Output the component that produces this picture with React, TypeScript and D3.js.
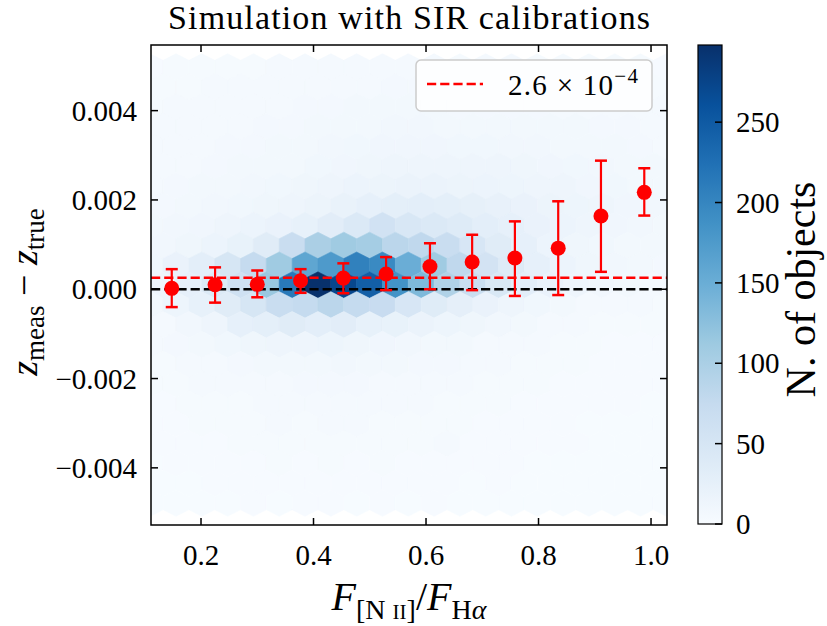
import React from "react";
import * as d3 from "d3";

// figure geometry
const W = 827;
const H = 626;
const PLOT = { left: 151, right: 667, top: 45, bottom: 525 };
const CBAR = { left: 698, right: 722, top: 45, bottom: 524 };
const FONT = "'Liberation Serif', 'DejaVu Serif', serif";

// axes
const xDomain = [0.1111, 1.0284];
const yDomain = [-0.00528, 0.00547];
const xTicks = [0.2, 0.4, 0.6, 0.8, 1.0];
const yTicks = [-0.004, -0.002, 0, 0.002, 0.004];
const cbTicks = [0, 50, 100, 150, 200, 250];
const VMAX = 298;

// matplotlib "Blues"
const BLUES = ["#f7fbff", "#deebf7", "#c6dbef", "#9ecae1", "#6baed6", "#4292c6", "#2171b5", "#08519c", "#08306b"];

// hexbin lattice (data units)
const HEX_X0 = 0.1556; // centre of first column on even rows
const HEX_DX = 0.04587; // column spacing
const HEX_Y0 = -0.00479; // centre of bottom row
const HEX_DY = 0.000444; // row pitch

// counts per hexagon, top row first; 21 cells per row
const hexCounts = [
  [2, 3, 3, 3, 3, 4, 4, 4, 4, 4, 4, 4, 3, 4, 4, 3, 3, 3, 3, 3, 2],
  [3, 3, 4, 4, 4, 5, 5, 5, 5, 6, 6, 5, 5, 5, 5, 5, 4, 4, 4, 3, 3],
  [3, 4, 4, 5, 5, 5, 6, 6, 7, 7, 7, 7, 6, 6, 6, 6, 5, 5, 5, 4, 4],
  [4, 4, 5, 5, 6, 6, 7, 8, 8, 9, 9, 8, 8, 8, 7, 7, 7, 6, 6, 5, 4],
  [4, 5, 5, 6, 6, 7, 8, 9, 10, 11, 11, 11, 10, 10, 9, 9, 8, 8, 7, 6, 5],
  [5, 5, 6, 7, 7, 8, 10, 11, 12, 13, 14, 14, 13, 13, 12, 11, 10, 9, 8, 7, 6],
  [5, 6, 7, 8, 9, 10, 12, 14, 16, 17, 18, 18, 17, 16, 15, 14, 13, 11, 10, 8, 7],
  [6, 7, 9, 10, 12, 14, 17, 21, 25, 28, 30, 28, 26, 23, 20, 17, 15, 13, 11, 9, 8],
  [7, 9, 11, 13, 16, 20, 24, 32, 42, 58, 46, 42, 38, 30, 25, 20, 16, 13, 11, 9, 8],
  [9, 12, 16, 22, 35, 70, 100, 110, 105, 85, 80, 70, 48, 35, 25, 16, 12, 10, 8, 7, 6],
  [10, 20, 30, 50, 75, 110, 160, 175, 205, 195, 150, 110, 80, 55, 38, 25, 16, 12, 9, 7, 6],
  [14, 25, 40, 60, 115, 215, 297, 272, 245, 185, 135, 95, 68, 45, 30, 20, 13, 9, 7, 5, 4],
  [8, 15, 24, 35, 50, 70, 75, 85, 75, 72, 48, 36, 27, 20, 14, 10, 7, 5, 4, 4, 3],
  [5, 9, 14, 25, 28, 35, 30, 32, 24, 22, 18, 15, 12, 9, 7, 5, 4, 3, 3, 3, 2],
  [4, 6, 8, 10, 12, 13, 13, 15, 12, 11, 9, 8, 7, 5, 4, 4, 3, 3, 2, 2, 2],
  [3, 4, 5, 6, 8, 8, 8, 9, 8, 7, 6, 6, 5, 4, 3, 3, 3, 2, 2, 2, 2],
  [3, 3, 4, 4, 5, 5, 6, 6, 6, 5, 5, 4, 4, 3, 3, 3, 2, 2, 2, 2, 2],
  [2, 3, 3, 3, 4, 4, 4, 5, 4, 4, 4, 3, 3, 3, 2, 2, 2, 2, 2, 1, 1],
  [2, 2, 3, 3, 3, 4, 3, 4, 4, 3, 3, 3, 3, 2, 2, 2, 2, 1, 1, 1, 1],
  [2, 2, 2, 3, 3, 3, 3, 3, 3, 3, 3, 4, 2, 2, 2, 2, 2, 1, 1, 1, 1],
  [1, 2, 2, 2, 2, 3, 2, 3, 2, 3, 2, 2, 2, 2, 2, 1, 1, 1, 1, 1, 1],
  [1, 1, 2, 2, 2, 2, 2, 2, 2, 2, 2, 2, 1, 2, 1, 1, 1, 1, 1, 1, 1],
  [1, 1, 1, 1, 2, 1, 2, 2, 1, 2, 1, 2, 1, 1, 1, 1, 1, 1, 1, 1, 1],
];

// binned medians with error bars
const binX = [0.148, 0.225, 0.3, 0.377, 0.453, 0.529, 0.607, 0.682, 0.758, 0.835, 0.911, 0.988];
const binMedian = [0.00002, 0.0001, 0.00011, 0.00019, 0.00025, 0.00034, 0.00051, 0.00061, 0.0007, 0.00092, 0.00164, 0.00217];
const binUpper = [0.00045, 0.00049, 0.00042, 0.00045, 0.00058, 0.00072, 0.00103, 0.00122, 0.00152, 0.00197, 0.00288, 0.00271];
const binLower = [-0.0004, -0.0003, -0.00018, -0.00008, -0.00009, -0.00002, 0.0, -0.00002, -0.00015, -0.00013, 0.00039, 0.00165];

const meanOffset = 2.6e-4;

const App = () => {
  const x = d3.scaleLinear().domain(xDomain).range([PLOT.left, PLOT.right]);
  const y = d3.scaleLinear().domain(yDomain).range([PLOT.bottom, PLOT.top]);
  const color = d3
    .scaleLinear<string>()
    .domain(BLUES.map((_, i) => (i / (BLUES.length - 1)) * VMAX))
    .range(BLUES)
    .interpolate(d3.interpolateRgb)
    .clamp(true);
  const cbY = d3.scaleLinear().domain([0, VMAX]).range([CBAR.bottom, CBAR.top]);

  const nRows = hexCounts.length;
  const hw = (x(HEX_X0 + HEX_DX) - x(HEX_X0)) / 2;
  const hh = ((y(HEX_Y0) - y(HEX_Y0 + HEX_DY)) * 2) / 3;
  const hexPath = `M${hw},${-hh / 2}L${hw},${hh / 2}L0,${hh}L${-hw},${hh / 2}L${-hw},${-hh / 2}L0,${-hh}Z`;

  const cells = [];
  hexCounts.forEach((row, r) => {
    const k = nRows - 1 - r;
    const shift = k % 2 === 0 ? 0 : 0.5;
    row.forEach((c, j) => {
      const i = j - 1;
      cells.push({ cx: x(HEX_X0 + (i + shift) * HEX_DX), cy: y(HEX_Y0 + k * HEX_DY), c });
    });
  });

  const fmtY = d3.format(".3f");
  const fmtX = d3.format(".1f");
  const red = "#ff0000";
  const tickLen = 7;
  const tickFont = 29;

  const legend = { x0: 416, y0: 60, x1: 652, y1: 111 };

  return (
    <svg width={W} height={H} style={{ display: "block", position: "absolute", left: 0, top: 0, background: "white" }} fontFamily={FONT}>
      <defs>
        <clipPath id="plotclip">
          <rect x={PLOT.left} y={PLOT.top} width={PLOT.right - PLOT.left} height={PLOT.bottom - PLOT.top} />
        </clipPath>
        <linearGradient id="cbgrad" x1="0" y1="1" x2="0" y2="0">
          {BLUES.map((b, i) => (
            <stop key={i} offset={i / (BLUES.length - 1)} stopColor={b} />
          ))}
        </linearGradient>
      </defs>

      {/* title */}
      <text x={168} y={29} fontSize={34} textLength={482} lengthAdjust="spacing">
        Simulation with SIR calibrations
      </text>

      {/* hexbin */}
      <g clipPath="url(#plotclip)">
        {cells.map((d, i) => (
          <path key={i} d={hexPath} transform={`translate(${d.cx},${d.cy})`} fill={color(d.c)} stroke={color(d.c)} strokeWidth={0.6} />
        ))}
        <line x1={PLOT.left} x2={PLOT.right} y1={y(0)} y2={y(0)} stroke="black" strokeWidth={2.5} strokeDasharray="9.2,4" />
        <line x1={PLOT.left} x2={PLOT.right} y1={y(meanOffset)} y2={y(meanOffset)} stroke={red} strokeWidth={2.5} strokeDasharray="9.2,4" />
        {binX.map((bx, i) => (
          <g key={i}>
            <line x1={x(bx)} x2={x(bx)} y1={y(binLower[i])} y2={y(binUpper[i])} stroke={red} strokeWidth={2.2} />
            <line x1={x(bx) - 6} x2={x(bx) + 6} y1={y(binLower[i])} y2={y(binLower[i])} stroke={red} strokeWidth={2.5} />
            <line x1={x(bx) - 6} x2={x(bx) + 6} y1={y(binUpper[i])} y2={y(binUpper[i])} stroke={red} strokeWidth={2.5} />
            <circle cx={x(bx)} cy={y(binMedian[i])} r={7.5} fill={red} />
          </g>
        ))}
      </g>

      {/* frame and ticks */}
      <rect x={PLOT.left} y={PLOT.top} width={PLOT.right - PLOT.left} height={PLOT.bottom - PLOT.top} fill="none" stroke="black" strokeWidth={1.5} />
      {xTicks.map((t) => (
        <g key={t}>
          <line x1={x(t)} x2={x(t)} y1={PLOT.bottom} y2={PLOT.bottom - tickLen} stroke="black" strokeWidth={1.5} />
          <line x1={x(t)} x2={x(t)} y1={PLOT.top} y2={PLOT.top + tickLen} stroke="black" strokeWidth={1.5} />
          <text x={x(t)} y={565} fontSize={tickFont} textAnchor="middle">
            {fmtX(t)}
          </text>
        </g>
      ))}
      {yTicks.map((t) => (
        <g key={t}>
          <line x1={PLOT.left} x2={PLOT.left + tickLen} y1={y(t)} y2={y(t)} stroke="black" strokeWidth={1.5} />
          <line x1={PLOT.right} x2={PLOT.right - tickLen} y1={y(t)} y2={y(t)} stroke="black" strokeWidth={1.5} />
          <text x={137} y={y(t) + 10} fontSize={tickFont} textAnchor="end">
            {fmtY(t)}
          </text>
        </g>
      ))}

      {/* legend */}
      <rect x={legend.x0} y={legend.y0} width={legend.x1 - legend.x0} height={legend.y1 - legend.y0} rx={5} fill="white" fillOpacity={0.8} stroke="#cccccc" strokeWidth={1.5} />
      <line x1={427} x2={483} y1={84} y2={84} stroke={red} strokeWidth={2.5} strokeDasharray="9.2,4" />
      <text x={508} y={95} fontSize={tickFont} textLength={130} lengthAdjust="spacing">
        2.6 × 10
        <tspan fontSize={21} dy={-12}>−4</tspan>
      </text>

      {/* axis labels */}
      <text x={(PLOT.left + PLOT.right) / 2} y={610} fontSize={40} textAnchor="middle">
        <tspan fontStyle="italic">F</tspan>
        <tspan fontSize={28} dy={9}>[N </tspan>
        <tspan fontSize={21}>II</tspan>
        <tspan fontSize={28}>]</tspan>
        <tspan dy={-9}>/</tspan>
        <tspan fontStyle="italic">F</tspan>
        <tspan fontSize={28} dy={9}>H</tspan>
        <tspan fontSize={28} fontStyle="italic">α</tspan>
      </text>
      <text transform={`translate(37,${(PLOT.top + PLOT.bottom) / 2 + 7}) rotate(-90)`} fontSize={38} textAnchor="middle">
        <tspan fontStyle="italic">z</tspan>
        <tspan fontSize={27} dy={7}>meas</tspan>
        <tspan dy={-7}> − </tspan>
        <tspan fontStyle="italic">z</tspan>
        <tspan fontSize={27} dy={7}>true</tspan>
      </text>

      {/* colorbar */}
      <rect x={CBAR.left} y={CBAR.top} width={CBAR.right - CBAR.left} height={CBAR.bottom - CBAR.top} fill="url(#cbgrad)" stroke="black" strokeWidth={1.2} />
      {cbTicks.map((t) => (
        <g key={t}>
          <line x1={CBAR.right} x2={CBAR.right - tickLen} y1={cbY(t)} y2={cbY(t)} stroke="black" strokeWidth={1.5} />
          <text x={736} y={cbY(t) + 10} fontSize={tickFont}>
            {t}
          </text>
        </g>
      ))}
      <text transform={`translate(815,${(CBAR.top + CBAR.bottom) / 2 + 5}) rotate(-90)`} fontSize={42} textAnchor="middle">
        N. of objects
      </text>
    </svg>
  );
};

export default App;
